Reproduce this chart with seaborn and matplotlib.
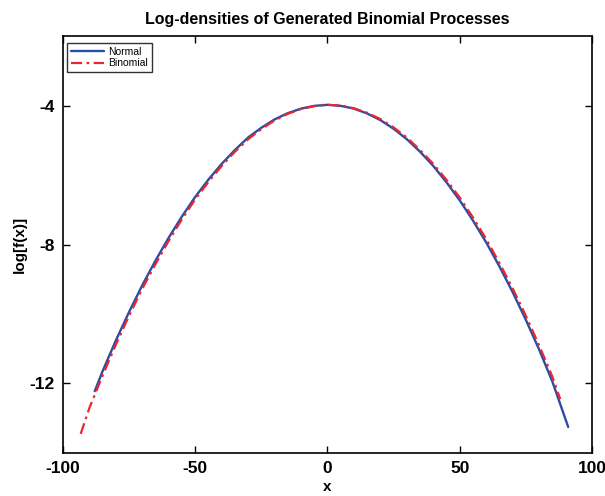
import matplotlib
matplotlib.use("Agg")
import matplotlib.pyplot as plt
import seaborn as sns
import pandas as pd

# Log-density estimates for the two processes
normal_x = [-88, -85, -80, -75, -70, -65, -60, -55, -50, -45, -40, -35, -30, -25, -20,
            -15, -10, -5, 0, 5, 10, 15, 20, 25, 30, 35, 40, 45, 50, 55, 60, 65, 70,
            75, 80, 85, 91]
normal_y = [-12.22, -11.64, -10.76, -9.94, -9.17, -8.46, -7.80, -7.19, -6.63, -6.13,
            -5.68, -5.28, -4.92, -4.64, -4.40, -4.22, -4.09, -4.01, -3.98, -4.01,
            -4.09, -4.23, -4.42, -4.67, -4.97, -5.33, -5.74, -6.21, -6.73, -7.31,
            -7.94, -8.63, -9.37, -10.17, -11.02, -11.94, -13.25]

binom_x = [-93.3, -90, -85, -80, -75, -70, -65, -60, -55, -50, -45, -40, -35, -30, -25,
           -20, -15, -10, -5, 0, 5, 10, 15, 20, 25, 30, 35, 40, 45, 50, 55, 60, 65,
           70, 75, 80, 85, 88]
binom_y = [-13.45, -12.70, -11.77, -10.88, -10.05, -9.27, -8.56, -7.89, -7.27, -6.70,
           -6.20, -5.74, -5.33, -4.97, -4.68, -4.43, -4.24, -4.10, -4.02, -3.98,
           -4.00, -4.08, -4.21, -4.39, -4.63, -4.92, -5.28, -5.68, -6.14, -6.65,
           -7.22, -7.84, -8.53, -9.26, -10.05, -10.90, -11.80, -12.45]

x_ticks = [-100, -50, 0, 50, 100]
y_ticks = [-12, -8, -4]

sns.set_theme(style="white")
plt.rcParams["font.family"] = ["Liberation Sans", "DejaVu Sans"]
plt.rcParams["text.color"] = "black"
plt.rcParams["axes.labelcolor"] = "black"

fig = plt.figure(figsize=(6.05, 4.96), dpi=100)
ax = fig.add_axes([0.1041, 0.0867, 0.8744, 0.8407])

df_n = pd.DataFrame({"x": normal_x, "y": normal_y})
df_b = pd.DataFrame({"x": binom_x, "y": binom_y})

sns.lineplot(data=df_n, x="x", y="y", ax=ax, color="#2B4EA2", lw=1.7,
             label="Normal", sort=False, solid_joinstyle="round")
sns.lineplot(data=df_b, x="x", y="y", ax=ax, color="#EC2630", lw=1.6,
             label="Binomial", sort=False, linestyle="-.")
ax.lines[1].set_dashes([5, 2, 1.2, 2])

ax.set_xlim(-100, 100)
ax.set_ylim(-14, -2)
ax.set_xticks(x_ticks)
ax.set_yticks(y_ticks)
ax.set_xticklabels([str(t) for t in x_ticks], fontsize=12.5, fontweight="bold", color="black")
ax.set_yticklabels([str(t) for t in y_ticks], fontsize=12.5, fontweight="bold", color="black")

ax.tick_params(direction="in", length=5, width=1, top=True, right=True,
               bottom=True, left=True, colors="black", pad=6)
for s in ax.spines.values():
    s.set_visible(True)
    s.set_color("black")
    s.set_linewidth(1.2)

ax.set_xlabel("x", fontsize=11, fontweight="bold", labelpad=3, color="black")
ax.set_ylabel("log[f(x)]", fontsize=11, fontweight="bold", labelpad=2, color="black")
ax.set_title("Log-densities of Generated Binomial Processes", fontsize=11.5,
             fontweight="bold", pad=9, color="black")

leg = ax.legend(loc="upper left", bbox_to_anchor=(0.0076, 0.983), borderaxespad=0,
                fontsize=7.5, frameon=True, fancybox=False, handlelength=3.2,
                handletextpad=0.4, borderpad=0.35, labelspacing=0.15)
leg.get_frame().set_edgecolor("black")
leg.get_frame().set_linewidth(1.0)
for t in leg.get_texts():
    t.set_color("black")

fig.savefig("out.png", dpi=100)
